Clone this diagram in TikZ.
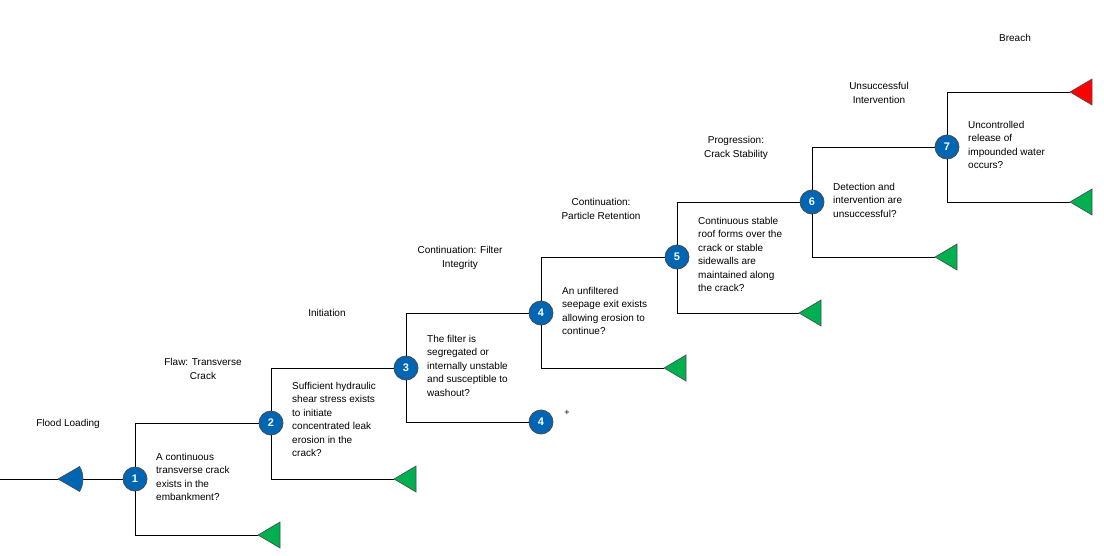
\documentclass[tikz,border=0pt]{standalone}
\usepackage{fontspec}
\setmainfont{Liberation Sans}
\usepackage{tikz}
\usetikzlibrary{positioning}
\definecolor{evblue}{RGB}{0,102,179}
\definecolor{evgreen}{RGB}{0,176,80}
\definecolor{evred}{RGB}{255,0,0}
\tikzset{
  event/.style={draw=black!70, circle, fill=evblue, text=white, font=\fontsize{11}{12}\selectfont\bfseries, minimum size=24pt, inner sep=0pt, line width=0.8pt},
  question/.style={anchor=north west, align=left, font=\fontsize{10}{13.5}\selectfont, inner sep=0pt},
  stage/.style={align=center, font=\fontsize{10}{13.5}\selectfont, inner sep=0pt},
  branch/.style={line width=0.9pt},
  tri/.style={draw=black!70, line width=0.6pt}
}
\newcommand{\outcometri}[2]{\draw[tri, fill=#2] (#1) -- ++(22,-13) -- ++(0,26) -- cycle;}
\begin{document}
\begin{tikzpicture}[x=1pt, y=-1pt]
\useasboundingbox (0,0) rectangle (1104,555);
% events
\node[event] (1) at (135,479) {1};
\node[event] (2) at (271,423) {2};
\node[event] (3) at (406,368) {3};
\node[event] (4) at (541,313) {4};
\node[event] (5) at (677,257) {5};
\node[event] (6) at (812,202) {6};
\node[event] (7) at (947,147) {7};
\node[event] (4b) at (541,422) {4};
\node[inner sep=0pt, font=\fontsize{9}{10}\selectfont] (plus) at (567,413) {+};
% end points
\coordinate (start) at (0,479);
\coordinate (load) at (58,479);
\coordinate (t1) at (258,535);
\coordinate (t2) at (394,479);
\coordinate (t4) at (664,368);
\coordinate (t5) at (799,313);
\coordinate (t6) at (935,257);
\coordinate (t7n) at (1070,202);
\coordinate (t7y) at (1070,92);
% branches
\draw[branch] (start) -- (load);
\draw[branch] (load) -- (1);
\draw[branch] (1) |- (2);
\draw[branch] (1) |- (t1);
\draw[branch] (2) |- (3);
\draw[branch] (2) |- (t2);
\draw[branch] (3) |- (4);
\draw[branch] (3) |- (4b);
\draw[branch] (4) |- (5);
\draw[branch] (4) |- (t4);
\draw[branch] (5) |- (6);
\draw[branch] (5) |- (t5);
\draw[branch] (6) |- (7);
\draw[branch] (6) |- (t6);
\draw[branch] (7) |- (t7y);
\draw[branch] (7) |- (t7n);
% loading sector and end triangles
\draw[tri, fill=evblue] (load) -- ++(30:25) arc[start angle=30, end angle=-30, radius=25] -- cycle;
\outcometri{t1}{evgreen}
\outcometri{t2}{evgreen}
\outcometri{t4}{evgreen}
\outcometri{t5}{evgreen}
\outcometri{t6}{evgreen}
\outcometri{t7n}{evgreen}
\outcometri{t7y}{evred}
% stage labels
\node[stage] (s0) at (68,424) {Flood Loading};
\node[stage] (s1) at (203,369) {Flaw: Transverse\\Crack};
\node[stage] (s2) at (327,313) {Initiation};
\node[stage] (s3) at (460,258) {Continuation: Filter\\Integrity};
\node[stage] (s4) at (601,209) {Continuation:\\Particle Retention};
\node[stage] (s5) at (736,148) {Progression:\\Crack Stability};
\node[stage] (s6) at (879,93) {Unsuccessful\\Intervention};
\node[stage] (s7) at (1015,38) {Breach};
% questions
\node[question] (q1) at (156,453) {A continuous\\transverse crack\\exists in the\\embankment?};
\node[question] (q2) at (292,382) {Sufficient hydraulic\\shear stress exists\\to initiate\\concentrated leak\\erosion in the\\crack?};
\node[question] (q3) at (427,335) {The filter is\\segregated or\\internally unstable\\and susceptible to\\washout?};
\node[question] (q4) at (562,287) {An unfiltered\\seepage exit exists\\allowing erosion to\\continue?};
\node[question] (q5) at (698,217) {Continuous stable\\roof forms over the\\crack or stable\\sidewalls are\\maintained along\\the crack?};
\node[question] (q6) at (833,183) {Detection and\\intervention are\\unsuccessful?};
\node[question] (q7) at (968,121) {Uncontrolled\\release of\\impounded water\\occurs?};
\end{tikzpicture}
\end{document}
